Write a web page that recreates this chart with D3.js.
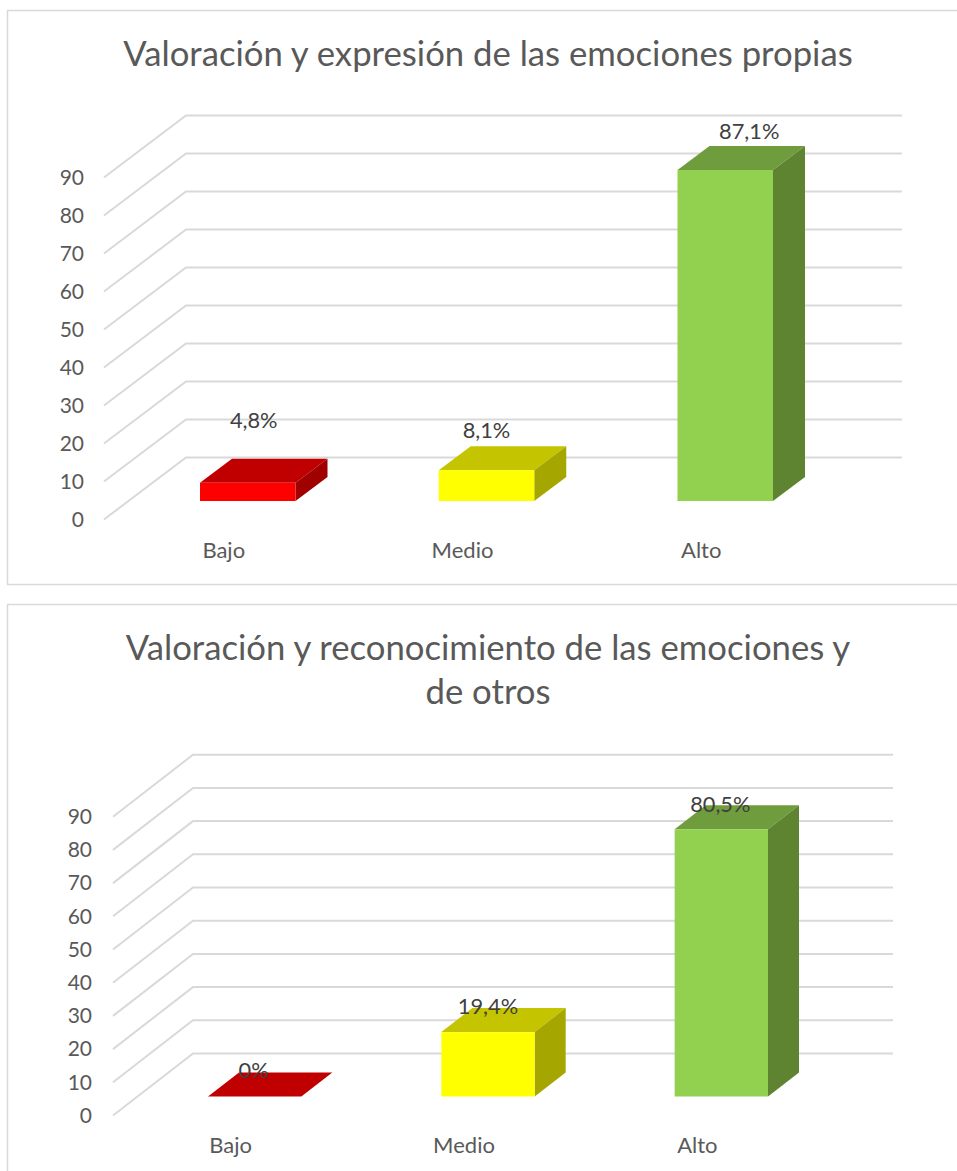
<!DOCTYPE html>
<html>
<head>
<meta charset="utf-8">
<script src="https://cdn.jsdelivr.net/npm/d3@7"></script>
<style>
  html, body { margin: 0; padding: 0; background: #fff; overflow: hidden; }
  text { font-family: Lato, "Open Sans", sans-serif; }
</style>
</head>
<body>
<div id="chart"></div>
<script>
const width = 957;
const height = 1171;

const categories = ["Bajo", "Medio", "Alto"];
const axisTicks = [0, 10, 20, 30, 40, 50, 60, 70, 80, 90];
const colors = ["#ff0000", "#ffff00", "#92d050"];
const topColors = ["#c00000", "#c4c400", "#6f9c3c"];
const sideColors = ["#a00000", "#a6a600", "#5e8431"];

const valuesPropias = [4.8, 8.1, 87.1];
const labelsPropias = ["4,8%", "8,1%", "87,1%"];
const valuesOtros = [0, 19.4, 80.5];
const labelsOtros = ["0%", "19,4%", "80,5%"];

const svg = d3.select("#chart")
  .append("svg")
  .attr("width", width)
  .attr("height", height);

// one 3D column chart, the layout numbers come from the options
function drawChart(opts) {
  const g = svg.append("g");

  // frame, open on the right side
  g.append("path")
    .attr("d", opts.frame)
    .attr("fill", "none")
    .attr("stroke", "#d9d9d9")
    .attr("stroke-width", 1.5);

  opts.title.forEach((line, i) => {
    g.append("text")
      .attr("x", opts.titleX)
      .attr("y", opts.titleY + i * opts.titleStep)
      .attr("text-anchor", "middle")
      .attr("font-size", opts.titleSize)
      .attr("fill", "#595959")
      .text(line);
  });

  const y = d3.scaleLinear().domain([0, 90]).range([opts.front0, opts.front90]);
  const h = v => y(0) - y(v);

  const x = d3.scaleBand()
    .domain(categories)
    .range(opts.barRange)
    .paddingInner(opts.barPadding)
    .paddingOuter(0);

  // gridlines: front edge to back wall, then along the back wall
  g.append("g")
    .selectAll("path")
    .data(axisTicks)
    .join("path")
    .attr("d", d => {
      const p = d3.path();
      p.moveTo(opts.wallX, y(d));
      p.lineTo(opts.wallX + opts.wallDx, y(d) + opts.wallDy);
      p.lineTo(opts.wallEnd, y(d) + opts.wallDy);
      return p.toString();
    })
    .attr("fill", "none")
    .attr("stroke", "#d9d9d9")
    .attr("stroke-width", 2);

  // y axis, only its labels are visible
  const axis = g.append("g")
    .attr("transform", `translate(${opts.axisX},0)`)
    .call(d3.axisLeft(y).tickValues(axisTicks).tickSize(0).tickPadding(0));
  axis.select(".domain").remove();
  axis.selectAll("text")
    .attr("font-size", 21)
    .attr("fill", "#595959")
    .style("font-family", "Lato, 'Open Sans', sans-serif");

  // columns
  const poly = pts => pts.map(p => p.join(",")).join(" ");
  const bars = g.append("g")
    .selectAll("g")
    .data(opts.values)
    .join("g");

  // top and side faces first so that the front face stays on top
  bars.append("polygon")
    .attr("points", (d, i) => {
      const x0 = x(categories[i]), x1 = x0 + x.bandwidth(), t = opts.floor - h(d);
      return poly([[x0, t], [x1, t], [x1 + opts.depthX, t - opts.depthY], [x0 + opts.depthX, t - opts.depthY]]);
    })
    .attr("fill", (d, i) => topColors[i]);

  bars.append("polygon")
    .attr("points", (d, i) => {
      const x1 = x(categories[i]) + x.bandwidth(), t = opts.floor - h(d);
      return poly([[x1, t], [x1 + opts.depthX, t - opts.depthY], [x1 + opts.depthX, opts.floor - opts.depthY], [x1, opts.floor]]);
    })
    .attr("fill", (d, i) => sideColors[i]);

  bars.append("rect")
    .attr("x", (d, i) => x(categories[i]))
    .attr("y", d => opts.floor - h(d))
    .attr("width", x.bandwidth())
    .attr("height", d => h(d))
    .attr("fill", (d, i) => colors[i]);

  // category labels
  g.append("g")
    .selectAll("text")
    .data(categories)
    .join("text")
    .attr("x", d => x(d) + x.bandwidth() / 2 + opts.catShift)
    .attr("y", opts.catY)
    .attr("text-anchor", "middle")
    .attr("font-size", 22)
    .attr("fill", "#595959")
    .text(d => d);

  // value labels were moved by hand in the original, so each has its own offset
  g.append("g")
    .selectAll("text")
    .data(opts.labels)
    .join("text")
    .attr("x", (d, i) => x(categories[i]) + x.bandwidth() / 2 + opts.labelDx[i])
    .attr("y", (d, i) => opts.floor - h(opts.values[i]) + opts.labelDy[i])
    .attr("text-anchor", "middle")
    .attr("font-size", 21.8)
    .attr("fill", "#404040")
    .text(d => d);
}

drawChart({
  frame: "M957,10.5H7.5V584.5H957",
  title: ["Valoración y expresión de las emociones propias"],
  titleX: 488, titleY: 66, titleStep: 0, titleSize: 34.7,
  values: valuesPropias, labels: labelsPropias,
  front0: 519.5, front90: 177.5,
  wallX: 104, wallDx: 82, wallDy: -62, wallEnd: 902,
  axisX: 84,
  barRange: [200, 773], barPadding: 0.6, floor: 501,
  depthX: 32, depthY: 24,
  catShift: -24, catY: 558,
  labelDx: [6, 0, 24], labelDy: [-55, -32, -31]
});

drawChart({
  frame: "M957,604.5H7.5V1171",
  title: ["Valoración y reconocimiento de las emociones y", "de otros"],
  titleX: 488, titleY: 660, titleStep: 44, titleSize: 34.7,
  values: valuesOtros, labels: labelsOtros,
  front0: 1115.5, front90: 816.7,
  wallX: 113, wallDx: 80, wallDy: -62, wallEnd: 893,
  axisX: 92,
  barRange: [208, 768], barPadding: 0.6, floor: 1096.5,
  depthX: 31, depthY: 24,
  catShift: -24, catY: 1153,
  labelDx: [-1, 0, -1], labelDy: [-19, -18, -17]
});
</script>
</body>
</html>
